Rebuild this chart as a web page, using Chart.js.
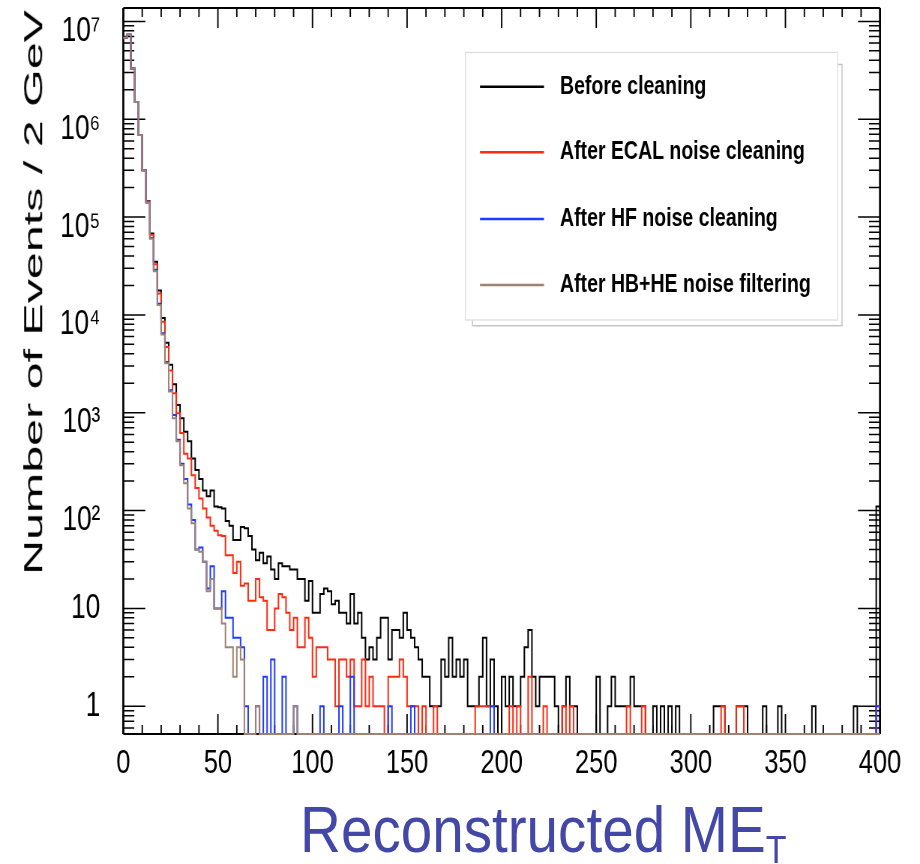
<!DOCTYPE html>
<html>
<head>
<meta charset="utf-8">
<script src="https://cdn.jsdelivr.net/npm/chart.js@4/dist/chart.umd.min.js"></script>
<style>
  html, body { margin: 0; padding: 0; background: #fff; }
  #wrap { position: relative; width: 920px; height: 864px; overflow: hidden; }
  #c { position: absolute; left: 0; top: 0; transform-origin: 0 0; }
  #ytitle { position: absolute; white-space: nowrap; line-height: 1; color: #000;
            font-family: 'Liberation Sans', Arial, sans-serif; font-size: 40px; }
  #xtitle { position: absolute; white-space: nowrap; line-height: 1; color: #4347a8;
            font-family: 'Comic Sans MS', 'Liberation Sans', sans-serif; font-size: 65px; }
  #xtitle sub { font-size: 39px; vertical-align: baseline; position: relative; top: 11px; }
</style>
</head>
<body>
<div id="wrap">
  <canvas id="c" width="1227" height="864"></canvas>
  <div id="ytitle">Number of Events / 2 GeV</div>
  <div id="xtitle">Reconstructed ME<sub>T</sub></div>
</div>
<script>
// ---- data (events per 2 GeV bin, bins from 0 to 400 GeV) ----
const binWidth = 2;
const nBins = 200;
const binLow = Array.from({length: nBins}, (_, i) => i * binWidth);

const seriesLabels = ['Before cleaning', 'After ECAL noise cleaning', 'After HF noise cleaning', 'After HB+HE noise filtering'];

const beforeCleaning = [
  6800000,7300000,3300000,1500000,690000,300000,145000,68000,35000,17800,9300,5200,3100,1950,1200,880,640,510,340,260,
  210,160,140,160,110,108,105,78,70,50,50,68,66,55,40,31,37,29,34,25,
  20,29,27,27,25,25,20,20,12,19,9,9,14,16,15,11,12,9,9,7,
  14,7,9,5,3,4,3,5,8,8,3,6,6,5,9,6,5,4,3,2,
  2,1,1,1,3,2,5,2,3,2,3,1,1,1,2,5,1,3,1,0,
  2,1,2,1,1,2,4,6,2,1,2,2,2,2,1,0,1,2,1,1,
  0,0,0,0,0,2,0,0,1,2,1,1,1,1,2,1,1,1,0,0,
  1,0,1,0,1,0,1,0,0,0,0,0,0,0,0,0,1,1,1,0,
  0,0,1,1,1,0,0,0,0,1,0,0,0,1,0,0,0,0,0,0,
  0,0,1,0,0,0,0,0,0,0,0,0,0,1,0,0,0,0,0,110
];
const afterEcal = [
  6800000,7300000,3300000,1500000,690000,300000,143000,66000,33000,16500,8500,4700,2700,1580,990,620,380,340,230,170,
  133,105,85,70,62,56,55,35,35,23,30,17,18,12,12,20,13,12,6,6,
  10,14,13,9,6,8,4,4,8,5,2,4,4,4,3,3,1,3,3,2,
  3,1,1,3,1,2,1,1,1,0,2,2,2,3,2,1,1,1,0,1,
  0,0,1,0,0,0,0,0,0,0,0,0,0,1,1,1,1,1,0,0,
  0,0,1,0,1,0,0,2,0,0,0,1,0,0,0,0,1,0,1,0,
  0,0,0,0,0,0,0,0,0,0,0,0,0,1,0,0,0,1,0,0,
  0,0,0,0,0,0,0,0,0,0,0,0,0,0,0,0,0,0,1,0,
  0,0,1,1,0,0,0,0,0,0,0,0,0,0,0,0,0,0,0,0,
  0,0,0,0,0,0,0,0,0,0,0,0,0,0,0,0,0,0,0,1
];
const afterHf = [
  6800000,7300000,3300000,1500000,690000,300000,141000,61000,29000,13000,6500,3300,1700,950,530,300,210,115,80,40,
  42,30,16,27,10,10,15,8,8,5,5,4,1,0,0,1,0,2,0,3,
  0,0,2,0,0,1,0,0,0,0,0,0,1,0,0,0,0,1,0,0,
  2,0,0,0,0,0,0,0,0,0,1,0,0,0,0,0,1,0,0,0,
  0,0,0,0,0,0,0,0,0,0,0,0,0,0,0,0,0,1,0,0,
  0,0,0,0,0,0,0,0,0,0,0,0,0,0,0,0,0,0,0,0,
  0,0,0,0,0,0,0,0,0,0,0,0,0,0,0,0,0,0,0,0,
  0,0,0,0,0,0,0,0,0,0,0,0,0,0,0,0,0,0,0,0,
  0,0,0,0,0,0,0,0,0,0,0,0,0,0,0,0,0,0,0,0,
  0,0,0,0,0,0,0,0,0,0,0,0,0,0,0,0,0,0,0,1
];
const afterHbhe = [
  6800000,7300000,3300000,1500000,690000,300000,140000,60000,28000,12600,6300,3200,1650,880,510,290,190,105,74,40,
  38,30,15,20,10,10,7,4,4,2,4,3,0,0,0,1,0,0,0,0,
  0,0,0,0,0,1,0,0,0,0,0,0,0,0,0,0,0,0,0,0,
  0,0,0,0,0,0,0,0,0,0,0,0,0,0,0,0,0,0,0,0,
  0,0,0,0,0,0,0,0,0,0,0,0,0,0,0,0,0,0,0,0,
  0,0,0,0,0,0,0,0,0,0,0,0,0,0,0,0,0,0,0,0,
  0,0,0,0,0,0,0,0,0,0,0,0,0,0,0,0,0,0,0,0,
  0,0,0,0,0,0,0,0,0,0,0,0,0,0,0,0,0,0,0,0,
  0,0,0,0,0,0,0,0,0,0,0,0,0,0,0,0,0,0,0,0,
  0,0,0,0,0,0,0,0,0,0,0,0,0,0,0,0,0,0,0,0
];

const xTickValues = [0, 50, 100, 150, 200, 250, 300, 350, 400];
const yTickValues = [1, 10, 1e2, 1e3, 1e4, 1e5, 1e6, 1e7];
const yTickLabels = ['1', '10', '10\u00B2', '10\u00B3', '10\u2074', '10\u2075', '10\u2076', '10\u2077'];

// ---- chart ----
// The original figure is horizontally condensed; the canvas is drawn wider and squeezed by SX.
const SX = 920 / 1227;
const X_MIN = 0, X_MAX = 400, Y_MIN = 0.52, Y_MAX = 1.37e7;
const FONT = "'Liberation Sans', Arial, sans-serif";

function histPoints(vals) {
  const pts = [];
  vals.forEach((v, i) => {
    const y = v > 0 ? v : Y_MIN;   // empty bins sit on the bottom of the frame
    pts.push({x: binLow[i], y: y});
    pts.push({x: binLow[i] + binWidth, y: y});
  });
  return pts;
}

function ds(label, vals, color, order) {
  return {
    label: label, data: histPoints(vals), borderColor: color, backgroundColor: color,
    borderWidth: 2, pointRadius: 0, tension: 0, fill: false, order: order,
    clip: {left: 3, top: 2, right: 3, bottom: 3}
  };
}

const frameTicks = {
  id: 'frameTicks',
  beforeDatasetsDraw(chart) {
    const {ctx, chartArea: a, scales: {x, y}} = chart;
    ctx.save();
    ctx.strokeStyle = '#000';
    // x ticks (vertical strokes)
    ctx.lineWidth = 1.4 / SX;
    ctx.beginPath();
    for (let v = X_MIN; v <= X_MAX; v += 10) {
      const px = x.getPixelForValue(v);
      const len = v % 50 === 0 ? 20 : 9;
      ctx.moveTo(px, a.bottom); ctx.lineTo(px, a.bottom - len);
      ctx.moveTo(px, a.top); ctx.lineTo(px, a.top + len);
    }
    ctx.stroke();
    // y ticks (horizontal strokes)
    ctx.lineWidth = 1.5;
    ctx.beginPath();
    for (let e = -1; e <= 7; e++) {
      for (let m = 1; m <= 9; m++) {
        const v = m * Math.pow(10, e);
        if (v < Y_MIN || v > Y_MAX) continue;
        const py = y.getPixelForValue(v);
        const len = (m === 1 ? 22 : 11) / SX;
        ctx.moveTo(a.left, py); ctx.lineTo(a.left + len, py);
        ctx.moveTo(a.right, py); ctx.lineTo(a.right - len, py);
      }
    }
    ctx.stroke();
    // frame
    ctx.lineWidth = 2;
    ctx.beginPath();
    ctx.moveTo(a.left, a.top); ctx.lineTo(a.right, a.top);
    ctx.moveTo(a.left, a.bottom); ctx.lineTo(a.right, a.bottom);
    ctx.stroke();
    ctx.lineWidth = 2 / SX;
    ctx.beginPath();
    ctx.moveTo(a.left, a.top); ctx.lineTo(a.left, a.bottom);
    ctx.moveTo(a.right, a.top); ctx.lineTo(a.right, a.bottom);
    ctx.stroke();
    ctx.restore();
  }
};

const boxLegend = {
  id: 'boxLegend',
  afterDatasetsDraw(chart) {
    const ctx = chart.ctx;
    const bx = 465.5 / SX, by = 52.5, bw = 372 / SX, bh = 267.5;
    ctx.save();
    // drop shadow
    ctx.strokeStyle = '#c4c4c4';
    ctx.lineWidth = 1.5;
    ctx.strokeRect(bx + 7 / SX, by + 12, bw - 2.5 / SX, bh - 6.3);
    ctx.fillStyle = '#fff';
    ctx.fillRect(bx, by, bw, bh);
    ctx.strokeStyle = '#dcdcdc';
    ctx.lineWidth = 1.2;
    ctx.strokeRect(bx, by, bw, bh);
    const rows = [86.7, 152.3, 219, 285];
    ctx.font = 'bold 26px ' + FONT;
    ctx.textBaseline = 'alphabetic';
    ctx.textAlign = 'left';
    chart.data.datasets.forEach((d, i) => {
      const ry = rows[i];
      ctx.strokeStyle = d.borderColor;
      ctx.lineWidth = 2.6;
      ctx.beginPath();
      ctx.moveTo(480 / SX, ry); ctx.lineTo(544 / SX, ry);
      ctx.stroke();
      ctx.fillStyle = '#000';
      ctx.fillText(d.label, 560 / SX, ry + 7);
    });
    ctx.restore();
  }
};

const canvas = document.getElementById('c');
canvas.style.transform = 'scaleX(' + SX + ')';

new Chart(canvas, {
  type: 'line',
  data: {
    datasets: [
      ds(seriesLabels[0], beforeCleaning, '#000000', 3),
      ds(seriesLabels[1], afterEcal, '#ff2a10', 2),
      ds(seriesLabels[2], afterHf, '#1e3cff', 1),
      ds(seriesLabels[3], afterHbhe, '#a08272', 0)
    ]
  },
  options: {
    responsive: false,
    animation: false,
    events: [],
    layout: {padding: {left: 0, right: (920 - 880) / SX, top: 8, bottom: 0}},
    plugins: {legend: {display: false}, tooltip: {enabled: false}, title: {display: false}},
    scales: {
      x: {
        type: 'linear', position: 'bottom', min: X_MIN, max: X_MAX,
        grid: {display: false, drawTicks: false}, border: {display: false},
        ticks: {color: '#000', font: {family: FONT, size: 34}, padding: 9, maxRotation: 0, autoSkip: false,
                callback: v => String(v)},
        afterBuildTicks: s => { s.ticks = xTickValues.map(v => ({value: v})); },
        afterFit: s => { s.height = 130; s.paddingLeft = 0; s.paddingRight = 0; }
      },
      y: {
        type: 'logarithmic', position: 'left', min: Y_MIN, max: Y_MAX,
        grid: {display: false, drawTicks: false}, border: {display: false},
        ticks: {color: '#000', font: {family: FONT, size: 35, lineHeight: 0.56}, padding: 23 / SX, autoSkip: false,
                // powers of ten sit a little below their tick, as in the original
                callback: (v, i) => (i >= 2 ? ['', yTickLabels[i]] : yTickLabels[i])},
        afterBuildTicks: s => { s.ticks = yTickValues.map(v => ({value: v})); },
        afterFit: s => { s.width = 123.3 / SX; s.paddingTop = 0; s.paddingBottom = 0; }
      }
    }
  },
  plugins: [frameTicks, boxLegend]
});

// ---- axis titles (HTML text), fitted to the reference extents ----
(function () {
  const yt = document.getElementById('ytitle');
  const fs = 40, base = 0.8465 * fs;
  const w = yt.offsetWidth;
  const sx = 565 / w, sy = 19 / (0.716 * fs);
  yt.style.left = '42px';
  yt.style.top = (575 - base) + 'px';
  yt.style.transformOrigin = '0px ' + base + 'px';
  yt.style.transform = 'rotate(-90deg) scale(' + sx + ',' + sy + ')';

  const xt = document.getElementById('xtitle');
  const fs2 = 65, base2 = 0.8465 * fs2;
  const w2 = xt.offsetWidth;
  xt.style.left = '300px';
  xt.style.top = (851.7 - base2) + 'px';
  xt.style.transformOrigin = '0px ' + base2 + 'px';
  xt.style.transform = 'scaleX(' + (487 / w2) + ')';
})();
</script>
</body>
</html>
